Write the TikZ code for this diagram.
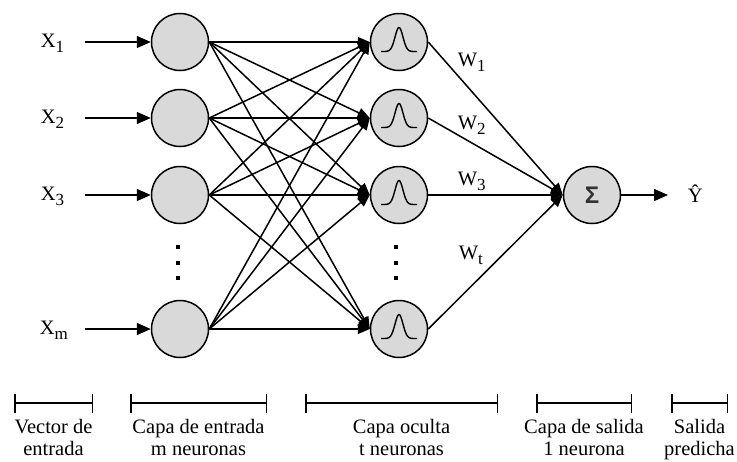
\documentclass[tikz,border=0pt]{standalone}
\usepackage{fontspec}
\setmainfont{Liberation Serif}
\newfontfamily\sigmafont{Liberation Sans}
\usetikzlibrary{arrows.meta}
\definecolor{nodegray}{RGB}{217,217,217}
\definecolor{sigmagray}{RGB}{51,51,51}
\newcommand{\sbs}[1]{\raisebox{-5pt}{\fontsize{17}{17}\selectfont #1}}
\begin{document}
\begin{tikzpicture}[x=1pt,y=-1pt,line width=1.5pt,
  neuron/.style={circle,draw=black,fill=nodegray,minimum size=57pt,inner sep=0pt,line width=1.5pt},
  lbl/.style={font=\fontsize{20.5}{24}\selectfont,inner sep=0pt},
  conn/.style={-{Triangle[length=12pt,width=10pt]}},
  inarrow/.style={-{Triangle[length=14pt,width=12pt]}},
  bracket/.style={{Bar[width=19pt]}-{Bar[width=19pt]},line width=1.5pt},
  bell/.style={line width=1.4pt}]
\useasboundingbox (0,0) rectangle (737,461);

% input neurons
\node[neuron] (in1) at (180,42) {};
\node[neuron] (in2) at (180,118) {};
\node[neuron] (in3) at (180,195) {};
\node[neuron] (in4) at (180,329) {};
% hidden neurons
\node[neuron] (h1) at (399,42) {};
\node[neuron] (h2) at (399,118) {};
\node[neuron] (h3) at (399,195) {};
\node[neuron] (h4) at (399,329) {};
% output neuron
\node[neuron] (out) at (592,195) {\sigmafont\bfseries\fontsize{24}{24}\selectfont\color{sigmagray}Σ};

% gaussian glyphs
\foreach \n in {h1,h2,h3,h4}{
  \begin{scope}[shift={(\n.center)}]
    \draw[bell] plot[domain=-18:18,samples=60,smooth] ({\x},{9.5-24*exp(-(\x/5.6)^2)});
  \end{scope}
}

% input arrows
\foreach \i/\y in {1/42,2/118,3/195,4/329}{
  \coordinate (s\i) at (85,\y);
  \draw[inarrow] (s\i) -- (in\i.west);
}
% input -> hidden
\foreach \i in {1,...,4}{
  \foreach \j in {1,...,4}{
    \draw[conn] (in\i.east) -- (h\j.west);
  }
}
% hidden -> output
\foreach \j in {1,...,4}{
  \draw[conn] (h\j.east) -- (out.west);
}
% output arrow
\coordinate (yend) at (668,195);
\draw[inarrow] (out.east) -- (yend);

% labels
\node[lbl,anchor=base west] (x1) at (40,47.5) {X\sbs{1}};
\node[lbl,anchor=base west] (x2) at (40,123.5) {X\sbs{2}};
\node[lbl,anchor=base west] (x3) at (40,200.5) {X\sbs{3}};
\node[lbl,anchor=base west] (xm) at (39,334.5) {X\sbs{m}};
\node[lbl,anchor=base west] (w1) at (457,66) {W\sbs{1}};
\node[lbl,anchor=base west] (w2) at (457,129) {W\sbs{2}};
\node[lbl,anchor=base west] (w3) at (457,185) {W\sbs{3}};
\node[lbl,anchor=base west] (wt) at (458,259) {W\sbs{t}};
\node[lbl,anchor=base west] (yhat) at (687,202) {Ŷ};

% dots
\foreach \x in {178,396}{
  \foreach \y in {247,263,278}{
    \fill (\x-1.7,\y-1.7) rectangle (\x+1.7,\y+1.7);
  }
}

% brackets
\draw[bracket] (14,403) -- (93,403);
\draw[bracket] (130,403) -- (267,403);
\draw[bracket] (305,403) -- (498,403);
\draw[bracket] (536,403) -- (632,403);
\draw[bracket] (671,403) -- (728,403);

% bottom texts
\node[lbl,anchor=base] (t1a) at (53.5,433) {Vector de};
\node[lbl,anchor=base] (t1b) at (53.5,455.5) {entrada};
\node[lbl,anchor=base] (t2a) at (198.5,433) {Capa de entrada};
\node[lbl,anchor=base] (t2b) at (198.5,455.5) {m neuronas};
\node[lbl,anchor=base] (t3a) at (401.5,433) {Capa oculta};
\node[lbl,anchor=base] (t3b) at (401.5,455.5) {t neuronas};
\node[lbl,anchor=base] (t4a) at (584,433) {Capa de salida};
\node[lbl,anchor=base] (t4b) at (584,455.5) {1 neurona};
\node[lbl,anchor=base] (t5a) at (699.5,433) {Salida};
\node[lbl,anchor=base] (t5b) at (699.5,455.5) {predicha};
\end{tikzpicture}
\end{document}
